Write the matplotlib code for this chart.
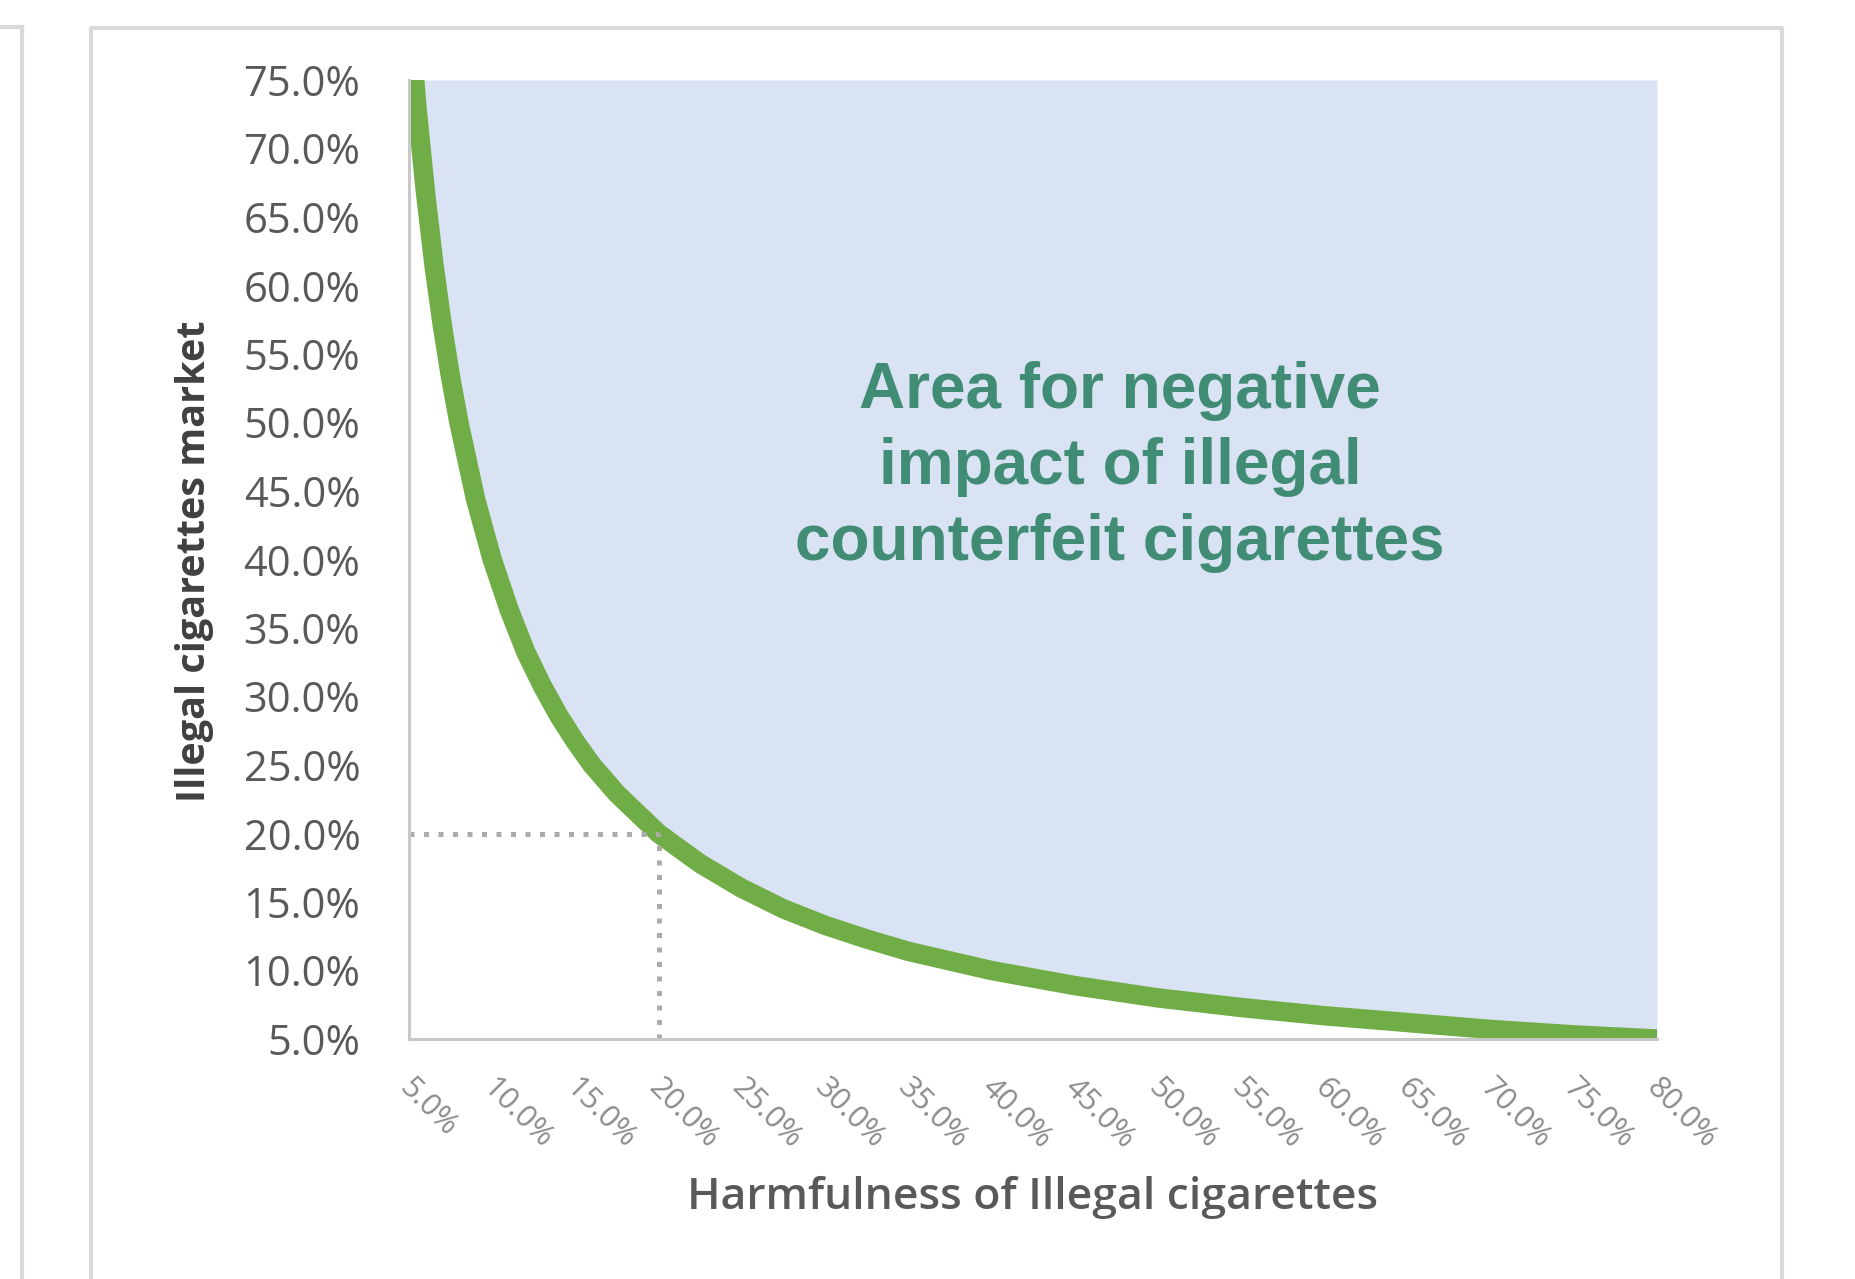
import numpy as np
import matplotlib
matplotlib.use("Agg")
import matplotlib.pyplot as plt
import matplotlib.transforms as mtransforms
from matplotlib.lines import Line2D

# Valores (en %)
harm = [5.0, 5.5, 6.0, 6.5, 7.0, 7.5, 8.0, 9.0, 10.0, 11.0, 12.0, 13.0, 14.0, 15.0,
        16.0, 17.5, 20.0, 22.5, 25.0, 27.5, 30.0, 32.5, 35.0, 40.0, 45.0, 50.0,
        55.0, 60.0, 65.0, 70.0, 75.0, 80.0]
market = [80.0, 72.7, 66.7, 61.5, 57.1, 53.3, 50.0, 44.4, 40.0, 36.4, 33.3, 30.8,
          28.6, 26.7, 25.0, 22.9, 20.0, 17.8, 16.0, 14.5, 13.3, 12.3, 11.4, 10.0,
          8.9, 8.0, 7.3, 6.7, 6.2, 5.7, 5.3, 5.0]
y_ticks = [5, 10, 15, 20, 25, 30, 35, 40, 45, 50, 55, 60, 65, 70, 75]
x_ticks = [5, 10, 15, 20, 25, 30, 35, 40, 45, 50, 55, 60, 65, 70, 75, 80]
ref_point = (20.0, 20.0)

fig = plt.figure(figsize=(18.55, 12.79), dpi=100)
fig.patch.set_facecolor("white")

# marcos de la página
gris_borde = "#D9D9D9"
fig.add_artist(Line2D([22 / 1855, 22 / 1855], [0, 1 - 27 / 1279], transform=fig.transFigure,
                      color=gris_borde, lw=3))
fig.add_artist(Line2D([0, 22 / 1855], [1 - 27 / 1279, 1 - 27 / 1279], transform=fig.transFigure,
                      color=gris_borde, lw=3))
fig.add_artist(Line2D([91 / 1855, 91 / 1855, 1782 / 1855, 1782 / 1855],
                      [0, 1 - 28 / 1279, 1 - 28 / 1279, 0], transform=fig.transFigure,
                      color=gris_borde, lw=3))

ax = fig.add_axes([409 / 1855, 1 - 1039 / 1279, (1657 - 409) / 1855, (1039 - 80) / 1279])
ax.set_facecolor("white")

# área sobre la curva
ax.fill_between(harm, market, 75, color="#DAE3F3", lw=0, zorder=1)
ax.plot(harm, market, color="#70AD47", lw=14, solid_capstyle="butt", zorder=3)

# líneas punteadas de referencia
ax.plot([5, ref_point[0]], [ref_point[1], ref_point[1]], color="#AEAAAA", lw=3.6,
        linestyle=(0, (1, 1.9)), zorder=4)
ax.plot([ref_point[0], ref_point[0]], [5, ref_point[1]], color="#AEAAAA", lw=3.6,
        linestyle=(0, (1, 1.9)), zorder=4)

ax.set_xlim(5, 80)
ax.set_ylim(5, 75)

for s in ["top", "right"]:
    ax.spines[s].set_visible(False)
for s in ["left", "bottom"]:
    ax.spines[s].set_color("#C8C8C8")
    ax.spines[s].set_linewidth(2.2)
    ax.spines[s].set_zorder(5)

ax.set_yticks(y_ticks)
ax.set_yticklabels([f"{v:.1f}%" for v in y_ticks], fontfamily="Open Sans",
                   fontsize=30, color="#595959")
ax.tick_params(axis="y", length=0, pad=35)

ax.set_xticks(x_ticks)
ax.set_xticklabels([f"{v:.1f}%" for v in x_ticks], fontfamily="Open Sans",
                   fontsize=22, color="#8C8C8C", rotation=-45, ha="left", va="top")
ax.tick_params(axis="x", length=0, pad=24)
offset = mtransforms.ScaledTranslation(-16 / 100, 0, fig.dpi_scale_trans)
for lab in ax.get_xticklabels():
    lab.set_transform(lab.get_transform() + offset)

fig.text(1033 / 1855, 1 - 1197 / 1279, "Harmfulness of Illegal cigarettes",
         ha="center", va="center", fontfamily="Open Sans", fontweight="semibold",
         fontsize=32, color="#595959")
fig.text(195 / 1855, 1 - 561 / 1279, "Illegal cigarettes market", rotation=90,
         ha="center", va="center", fontfamily="Open Sans", fontweight="bold",
         fontsize=28.5, color="#404040")

ax.text(1120 / 1855, 1 - 467 / 1279, "Area for negative\nimpact of illegal\ncounterfeit cigarettes",
        transform=fig.transFigure, ha="center", va="center", multialignment="center",
        fontfamily="Liberation Sans", fontweight="bold", fontsize=46, color="#408C74",
        linespacing=1.34, zorder=6)

fig.savefig("out.png", dpi=100, facecolor="white")
